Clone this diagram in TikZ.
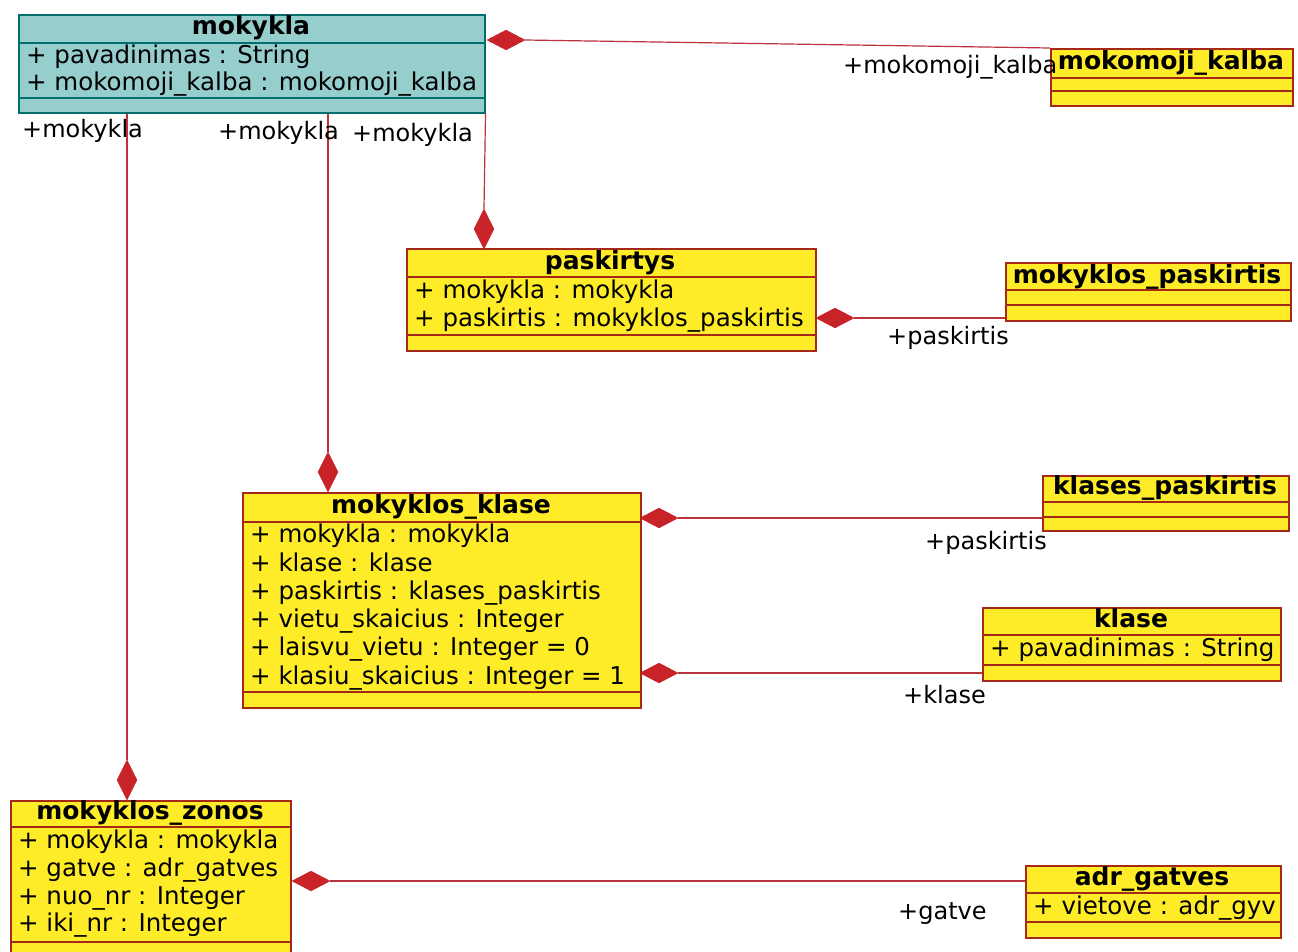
\documentclass[tikz,border=0pt]{standalone}
\usepackage{fontspec}
\setmainfont{DejaVu Sans}
\usetikzlibrary{shapes.geometric,calc}
\definecolor{teal1}{RGB}{150,206,206}
\definecolor{tealb}{RGB}{0,110,110}
\definecolor{yel}{RGB}{255,236,40}
\definecolor{redb}{RGB}{165,40,25}
\definecolor{linec}{RGB}{185,50,60}
\definecolor{diac}{RGB}{200,35,40}
\begin{document}
\begin{tikzpicture}[x=1pt,y=-1pt,
  cls/.style={draw=redb, fill=yel, line width=1.5pt, inner sep=0, anchor=north west},
  clsm/.style={cls, draw=tealb, fill=teal1},
  sepl/.style={draw=redb, line width=1.5pt},
  sepm/.style={draw=tealb, line width=1.5pt},
  title/.style={font=\fontsize{25}{28}\selectfont\bfseries, inner sep=0, text height=17pt, text depth=5pt},
  attr/.style={font=\fontsize{24.5}{28}\selectfont, inner sep=0, anchor=west, text height=17pt, text depth=5pt},
  role/.style={font=\fontsize{24}{28}\selectfont, inner sep=0, anchor=west, text height=17pt, text depth=5pt},
  assoc/.style={draw=linec, line width=1.2pt},
  diah/.style={diamond, fill=diac, draw=diac, inner sep=0, minimum width=38pt, minimum height=20pt},
  diav/.style={diamond, fill=diac, draw=diac, inner sep=0, minimum width=20pt, minimum height=40pt},
]
\useasboundingbox[fill=white] (0,0) rectangle (1298,951);

% mokykla
\node[clsm, minimum width=466pt, minimum height=98pt] (mokykla) at (18,14) {};
\draw[sepm] (18,43) -- (484,43);
\draw[sepm] (18,98) -- (484,98);
\node[title] (t-mokykla) at (251,28) {mokykla};
\node[attr] (a-mokykla1) at (26,57) {+ pavadinimas : String};
\node[attr] (a-mokykla2) at (26,84) {+ mokomoji\_kalba : mokomoji\_kalba};

% mokomoji_kalba
\node[cls, minimum width=242pt, minimum height=57pt] (mkalba) at (1050,48) {};
\draw[sepl] (1050,78) -- (1292,78);
\draw[sepl] (1050,91) -- (1292,91);
\node[title] (t-mkalba) at (1171,63) {mokomoji\_kalba};

% paskirtys
\node[cls, minimum width=409pt, minimum height=102pt] (paskirtys) at (406,248) {};
\draw[sepl] (406,277) -- (815,277);
\draw[sepl] (406,335) -- (815,335);
\node[title] (t-paskirtys) at (610,263) {paskirtys};
\node[attr] (a-pask1) at (414,292) {+ mokykla : mokykla};
\node[attr] (a-pask2) at (414,320) {+ paskirtis : mokyklos\_paskirtis};

% mokyklos_paskirtis
\node[cls, minimum width=285pt, minimum height=58pt] (mpask) at (1005,262) {};
\draw[sepl] (1005,290) -- (1290,290);
\draw[sepl] (1005,305) -- (1290,305);
\node[title] (t-mpask) at (1147,277) {mokyklos\_paskirtis};

% mokyklos_klase
\node[cls, minimum width=398pt, minimum height=215pt] (mklase) at (242,492) {};
\draw[sepl] (242,522) -- (640,522);
\draw[sepl] (242,692) -- (640,692);
\node[title] (t-mklase) at (441,507) {mokyklos\_klase};
\node[attr] (a-mk1) at (250,536) {+ mokykla : mokykla};
\node[attr] (a-mk2) at (250,565) {+ klase : klase};
\node[attr] (a-mk3) at (250,593) {+ paskirtis : klases\_paskirtis};
\node[attr] (a-mk4) at (250,621) {+ vietu\_skaicius : Integer};
\node[attr] (a-mk5) at (250,649) {+ laisvu\_vietu : Integer = 0};
\node[attr] (a-mk6) at (250,678) {+ klasiu\_skaicius : Integer = 1};

% klases_paskirtis
\node[cls, minimum width=246pt, minimum height=55pt] (kpask) at (1042,475) {};
\draw[sepl] (1042,502) -- (1288,502);
\draw[sepl] (1042,517) -- (1288,517);
\node[title] (t-kpask) at (1165,488) {klases\_paskirtis};

% klase
\node[cls, minimum width=298pt, minimum height=73pt] (klase) at (982,607) {};
\draw[sepl] (982,635) -- (1280,635);
\draw[sepl] (982,665) -- (1280,665);
\node[title] (t-klase) at (1131,621) {klase};
\node[attr] (a-klase1) at (990,650) {+ pavadinimas : String};

% mokyklos_zonos
\node[cls, minimum width=280pt, minimum height=160pt] (mzonos) at (10,800) {};
\draw[sepl] (10,827) -- (290,827);
\draw[sepl] (10,942) -- (290,942);
\node[title] (t-mzonos) at (150,813) {mokyklos\_zonos};
\node[attr] (a-mz1) at (18,842) {+ mokykla : mokykla};
\node[attr] (a-mz2) at (18,870) {+ gatve : adr\_gatves};
\node[attr] (a-mz3) at (18,898) {+ nuo\_nr : Integer};
\node[attr] (a-mz4) at (18,925) {+ iki\_nr : Integer};

% adr_gatves
\node[cls, minimum width=255pt, minimum height=72pt] (adr) at (1025,865) {};
\draw[sepl] (1025,893) -- (1280,893);
\draw[sepl] (1025,922) -- (1280,922);
\node[title] (t-adr) at (1152,879) {adr\_gatves};
\node[attr] (a-adr1) at (1033,908) {+ vietove : adr\_gyv};

% diamonds
\node[diah] (d1) at (506,40) {};
\node[diav] (d2) at (484,229) {};
\node[diav] (d3) at (328,472) {};
\node[diav] (d4) at (127,780) {};
\node[diah] (d5) at (835,318) {};
\node[diah] (d6) at (659,518) {};
\node[diah] (d7) at (659,673) {};
\node[diah] (d8) at (311,881) {};

% connectors
\draw[assoc] (d1.east) -- (mkalba.north west);
\draw[assoc] (mokykla.south east) -- (d2.north);
\draw[assoc] (d3 |- mokykla.south) -- (d3.north);
\draw[assoc] (d4 |- mokykla.south) -- (d4.north);
\draw[assoc] (d5.east) -- (d5.east -| mpask.west);
\draw[assoc] (d6.east) -- (d6.east -| kpask.west);
\draw[assoc] (d7.east) -- (d7.east -| klase.west);
\draw[assoc] (d8.east) -- (d8.east -| adr.west);

% role labels
\node[role] (r1) at (843,67) {+mokomoji\_kalba};
\node[role] (r2) at (22,131) {+mokykla};
\node[role] (r3) at (218,133) {+mokykla};
\node[role] (r4) at (352,135) {+mokykla};
\node[role] (r5) at (887,338) {+paskirtis};
\node[role] (r6) at (925,543) {+paskirtis};
\node[role] (r7) at (903,697) {+klase};
\node[role] (r8) at (898,913) {+gatve};
\end{tikzpicture}
\end{document}
